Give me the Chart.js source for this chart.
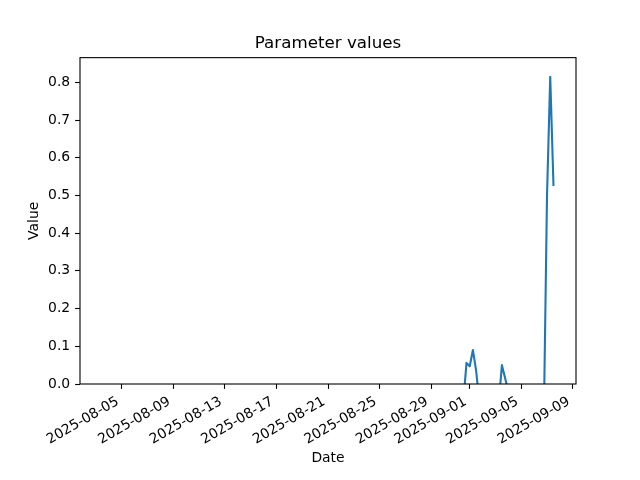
<!DOCTYPE html>
<html lang="en">
<head>
  <meta charset="utf-8">
  <title>Parameter values</title>
  <script src="https://cdn.jsdelivr.net/npm/chart.js"></script>
  <style>
    body { margin: 0; background: #fff; }
    .wrap { width: 640px; height: 480px; position: relative; }
  </style>
</head>
<body>
  <div class="wrap"><canvas id="chart"></canvas></div>

  <script>
    // sample times (UTC) and values; below-zero values fall under the axis and are clipped
    const dates = [
      '2025-08-03T12:00', '2025-08-04T12:00', '2025-08-05T12:00', '2025-08-06T12:00', '2025-08-07T12:00',
      '2025-08-08T12:00', '2025-08-09T12:00', '2025-08-10T12:00', '2025-08-11T12:00', '2025-08-12T12:00',
      '2025-08-13T12:00', '2025-08-14T12:00', '2025-08-15T12:00', '2025-08-16T12:00', '2025-08-17T12:00',
      '2025-08-18T12:00', '2025-08-19T12:00', '2025-08-20T12:00', '2025-08-21T12:00', '2025-08-22T12:00',
      '2025-08-23T12:00', '2025-08-24T12:00', '2025-08-25T12:00', '2025-08-26T12:00', '2025-08-27T12:00',
      '2025-08-28T12:00', '2025-08-29T12:00', '2025-08-30T12:00', '2025-08-31T12:00',
      '2025-08-31T18:00', '2025-09-01T00:00', '2025-09-01T06:00', '2025-09-01T12:00', '2025-09-01T18:00',
      '2025-09-02T00:00', '2025-09-02T12:00', '2025-09-03T00:00', '2025-09-03T06:00', '2025-09-03T12:00',
      '2025-09-03T18:00', '2025-09-04T00:00', '2025-09-04T12:00', '2025-09-05T00:00', '2025-09-05T12:00',
      '2025-09-06T00:00', '2025-09-06T12:00', '2025-09-06T18:00', '2025-09-07T00:00', '2025-09-07T06:00',
      '2025-09-07T12:00'
    ];
    const values = [
      -0.05, -0.05, -0.05, -0.05, -0.05,
      -0.05, -0.05, -0.05, -0.05, -0.05,
      -0.05, -0.05, -0.05, -0.05, -0.05,
      -0.05, -0.05, -0.05, -0.05, -0.05,
      -0.05, -0.05, -0.05, -0.05, -0.05,
      -0.05, -0.05, -0.05, -0.05,
      0.056, 0.047, 0.09, 0.035, -0.05,
      -0.05, -0.05, -0.05, -0.05, 0.05,
      0.015, -0.02, -0.05, -0.05, -0.05,
      -0.05, -0.05, -0.1, 0.5, 0.815,
      0.528
    ];
    const xTickDates = ['2025-08-05', '2025-08-09', '2025-08-13', '2025-08-17', '2025-08-21',
                        '2025-08-25', '2025-08-29', '2025-09-01', '2025-09-05', '2025-09-09'];
    const yTicks = [0, 0.1, 0.2, 0.3, 0.4, 0.5, 0.6, 0.7, 0.8];

    const toMs = s => Date.parse(s.length > 10 ? s + 'Z' : s + 'T00:00Z');

    Chart.defaults.font.family = "'DejaVu Sans', sans-serif";
    Chart.defaults.color = '#000';

    // full box around the plot area, drawn over the line like matplotlib spines
    const frame = {
      id: 'frame',
      afterDatasetsDraw(chart) {
        const a = chart.chartArea, ctx = chart.ctx;
        ctx.save();
        ctx.strokeStyle = '#000';
        ctx.lineWidth = 1.1;
        ctx.strokeRect(a.left, a.top, a.right - a.left, a.bottom - a.top);
        ctx.restore();
      }
    };

    const tickGrid = {
      display: true, drawOnChartArea: false, drawTicks: true,
      tickLength: 4.9, tickWidth: 1.1, tickColor: '#000', color: '#000'
    };

    new Chart(document.getElementById('chart'), {
      type: 'line',
      data: {
        datasets: [{
          data: dates.map((d, i) => ({ x: toMs(d), y: values[i] })),
          borderColor: '#1f77b4',
          borderWidth: 2.1,
          borderJoinStyle: 'round',
          borderCapStyle: 'square',
          pointRadius: 0,
          tension: 0,
          clip: 0
        }]
      },
      options: {
        responsive: true,
        maintainAspectRatio: false,
        animation: false,
        devicePixelRatio: 1,
        layout: { padding: { left: 0, right: 64, top: 0, bottom: 0 } },
        plugins: {
          legend: { display: false },
          tooltip: { enabled: false },
          title: {
            display: true,
            text: 'Parameter values',
            fullSize: false,
            color: '#000',
            font: { size: 16.7, weight: 'normal' },
            padding: { top: 34, bottom: 3.6 }
          }
        },
        scales: {
          x: {
            type: 'linear',
            min: toMs('2025-08-01T18:00'),
            max: toMs('2025-09-09T06:00'),
            grid: tickGrid,
            border: { display: false },
            afterBuildTicks: s => { s.ticks = xTickDates.map(d => ({ value: toMs(d) })); },
            afterFit: s => { s.height = 96; },
            ticks: {
              autoSkip: false,
              minRotation: 30,
              maxRotation: 30,
              padding: 4.5,
              labelOffset: -4,
              color: '#000',
              font: { size: 13.9 },
              callback: v => new Date(v).toISOString().slice(0, 10)
            },
            title: {
              display: true, text: 'Date', color: '#000',
              font: { size: 13.9 }, padding: { top: 0, bottom: 13.7 }
            }
          },
          y: {
            min: 0,
            max: 0.8655,
            grid: tickGrid,
            border: { display: false },
            afterBuildTicks: s => { s.ticks = yTicks.map(v => ({ value: v })); },
            afterFit: s => { s.width = 80; },
            ticks: {
              padding: 4.9,
              color: '#000',
              font: { size: 13.9 },
              callback: v => v.toFixed(1)
            },
            title: {
              display: true, text: 'Value', color: '#000',
              font: { size: 13.9 }, padding: { top: 26, bottom: 0 }
            }
          }
        }
      },
      plugins: [frame]
    });
  </script>
</body>
</html>
